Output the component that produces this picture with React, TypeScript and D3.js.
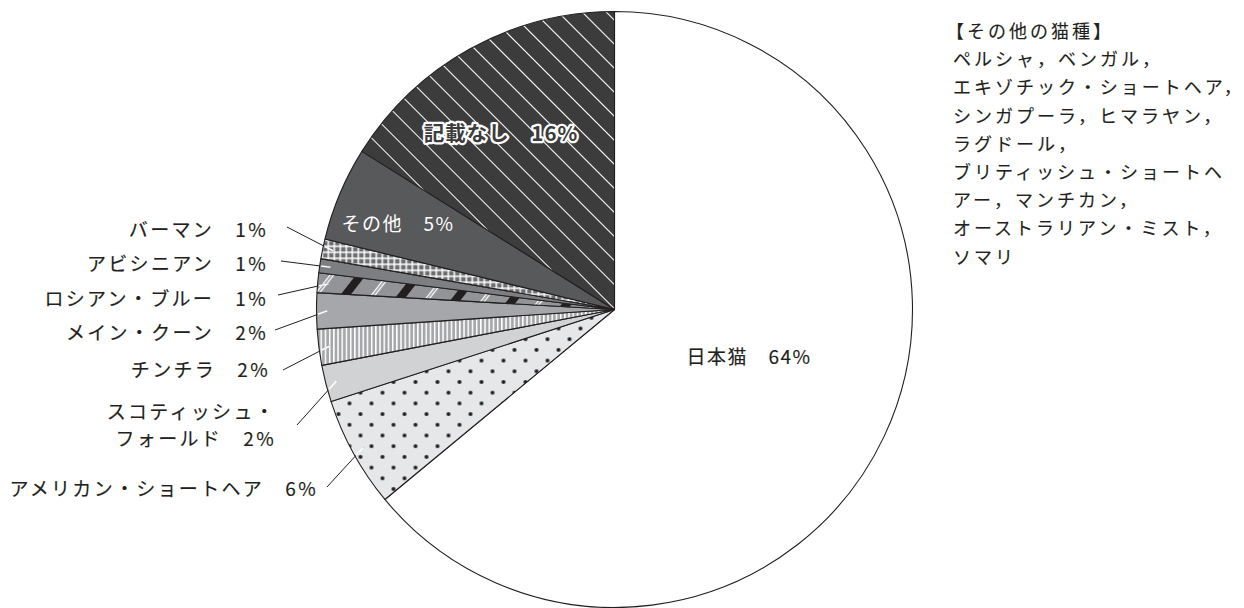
import React from "react";
import * as d3 from "d3";

const categories = [
  "日本猫",
  "アメリカン・ショートヘア",
  "スコティッシュ・フォールド",
  "チンチラ",
  "メイン・クーン",
  "ロシアン・ブルー",
  "アビシニアン",
  "バーマン",
  "その他",
  "記載なし",
];
const values = [64.0, 6.0, 2.0, 1.95, 1.95, 1.07, 0.76, 1.07, 5.1, 16.1];
const percentLabels = ["64%", "6%", "2%", "2%", "2%", "1%", "1%", "1%", "5%", "16%"];
const otherBreeds = [
  "【その他の猫種】",
  "ペルシャ，ベンガル，",
  "エキゾチック・ショートヘア，",
  "シンガプーラ，ヒマラヤン，",
  "ラグドール，",
  "ブリティッシュ・ショートヘ",
  "アー，マンチカン，",
  "オーストラリアン・ミスト，",
  "ソマリ",
];

const W = 1244;
const H = 608;
const CX = 614.5;
const CY = 309.5;
const R = 298;

const fills = [
  "#ffffff",
  "url(#pDots)",
  "#d1d2d4",
  "url(#pVert)",
  "#a5a7aa",
  "url(#pRus)",
  "#7d7e81",
  "url(#pGrid)",
  "#58595b",
  "url(#pDiag)",
];

// outside label layout
const outsideLabels: Record<number, { lines: string[]; x: number; y: number; lx: number; ly: number }> = {
  7: { lines: ["バーマン　1%"], x: 268, y: 228, lx: 287, ly: 227 },
  6: { lines: ["アビシニアン　1%"], x: 268, y: 262, lx: 281, ly: 261 },
  5: { lines: ["ロシアン・ブルー　1%"], x: 268, y: 297, lx: 278, ly: 295 },
  4: { lines: ["メイン・クーン　2%"], x: 268, y: 331, lx: 275, ly: 330 },
  3: { lines: ["チンチラ　2%"], x: 270, y: 368, lx: 283, ly: 370 },
  2: { lines: ["スコティッシュ・", "フォールド　2%"], x: 276, y: 410, lx: 297, ly: 425 },
  1: { lines: ["アメリカン・ショートヘア　6%"], x: 318, y: 487, lx: 327, ly: 487 },
};

const FONT = "'Noto Sans CJK JP', 'Noto Sans', sans-serif";
const INK = "#231f20";

export default function App() {
  const pie = d3
    .pie<number>()
    .sort(null)
    .startAngle(0)
    .endAngle(2 * Math.PI)
    .value((d) => d);
  const arcs = pie(values);
  const arc = d3.arc<d3.PieArcDatum<number>>().innerRadius(0).outerRadius(R);
  const endArc = d3.arc<d3.PieArcDatum<number>>().innerRadius(287).outerRadius(287);

  return (
    <svg
      width={W}
      height={H}
      viewBox={`0 0 ${W} ${H}`}
      style={{ position: "absolute", left: 0, top: 0, background: "#fff" }}
    >
      <defs>
        <pattern id="pDots" patternUnits="userSpaceOnUse" x={10} y={19} width={22} height={21.4}>
          <rect width={22} height={21.4} fill="#e6e7e8" />
          <circle cx={0} cy={0} r={2} fill={INK} />
          <circle cx={22} cy={0} r={2} fill={INK} />
          <circle cx={0} cy={21.4} r={2} fill={INK} />
          <circle cx={22} cy={21.4} r={2} fill={INK} />
          <circle cx={11} cy={10.7} r={2} fill={INK} />
        </pattern>
        <pattern id="pVert" patternUnits="userSpaceOnUse" width={4.2} height={10}>
          <rect width={4.2} height={10} fill="#a5a7aa" />
          <rect x={0} width={1.5} height={10} fill="#ffffff" />
        </pattern>
        <pattern id="pGrid" patternUnits="userSpaceOnUse" width={6} height={6} x={1} y={2}>
          <rect width={6} height={6} fill="#6d6e71" />
          <rect x={0} y={0} width={1.5} height={6} fill="#ffffff" />
          <rect x={0} y={0} width={6} height={1.5} fill="#ffffff" />
        </pattern>
        <pattern
          id="pRus"
          patternUnits="userSpaceOnUse"
          width={45}
          height={20}
          patternTransform="rotate(38)"
        >
          <rect width={45} height={20} fill="#929497" />
          <rect x={0} width={8} height={20} fill={INK} />
          <rect x={24} width={1.3} height={20} fill="#ffffff" />
          <rect x={26.8} width={1.3} height={20} fill="#ffffff" />
        </pattern>
        <pattern
          id="pDiag"
          patternUnits="userSpaceOnUse"
          width={17}
          height={20}
          patternTransform="rotate(-45)"
        >
          <rect width={17} height={20} fill="#3c3c3c" />
          <rect x={0} width={1} height={20} fill="#ffffff" />
        </pattern>
        <clipPath id="pieClip">
          <circle cx={CX} cy={CY} r={R - 1} />
        </clipPath>
      </defs>

      <g transform={`translate(${CX},${CY})`}>
        {arcs.map((a, i) => (
          <path key={i} d={arc(a) || ""} fill={fills[i]} stroke={INK} strokeWidth={1.1} strokeLinejoin="round" />
        ))}
      </g>

      {/* leader lines */}
      {arcs.map((a, i) => {
        const lab = outsideLabels[i];
        if (!lab) return null;
        const [ex, ey] = endArc.centroid(a);
        const x2 = CX + ex;
        const y2 = CY + ey;
        return (
          <g key={"l" + i}>
            <line x1={lab.lx} y1={lab.ly} x2={x2} y2={y2} stroke={INK} strokeWidth={1} />
            <line
              x1={lab.lx}
              y1={lab.ly}
              x2={x2}
              y2={y2}
              stroke="#ffffff"
              strokeWidth={1.6}
              clipPath="url(#pieClip)"
            />
          </g>
        );
      })}

      {/* outside labels */}
      {Object.entries(outsideLabels).map(([k, lab]) => (
        <text
          key={"t" + k}
          x={lab.x}
          y={lab.y}
          textAnchor="end"
          fontFamily={FONT}
          fontSize={19}
          letterSpacing={2.3}
          fill={INK}
          stroke={INK}
          strokeWidth={0.15}
          dominantBaseline="central"
        >
          {lab.lines.map((ln, j) => (
            <tspan key={j} x={lab.x} dy={j === 0 ? 0 : 27}>
              {ln}
            </tspan>
          ))}
        </text>
      ))}

      {/* inside labels */}
      <text
        x={749}
        y={355}
        textAnchor="middle"
        dominantBaseline="central"
        fontFamily={FONT}
        fontSize={19}
        letterSpacing={1.5}
        fill={INK}
        stroke={INK}
        strokeWidth={0.15}
      >
        {categories[0] + "　" + percentLabels[0]}
      </text>
      <text
        x={398}
        y={222}
        textAnchor="middle"
        dominantBaseline="central"
        fontFamily={FONT}
        fontSize={19}
        letterSpacing={1.5}
        fill="#ffffff"
      >
        {categories[8] + "　" + percentLabels[8]}
      </text>
      <text
        x={501}
        y={132}
        textAnchor="middle"
        dominantBaseline="central"
        fontFamily={FONT}
        fontSize={20.5}
        fontWeight={700}
        letterSpacing={1}
        fill="#3c3c3c"
        stroke="#ffffff"
        strokeWidth={4.5}
        strokeLinejoin="round"
        paintOrder="stroke"
      >
        {categories[9] + "　" + percentLabels[9]}
      </text>

      {/* right note */}
      <text fontFamily={FONT} fontSize={18} letterSpacing={3} fill={INK} stroke={INK} strokeWidth={0.12}>
        {otherBreeds.map((ln, j) => (
          <tspan key={j} x={j === 0 ? 946 : 953} y={38 + j * 28.2}>
            {ln}
          </tspan>
        ))}
      </text>
    </svg>
  );
}
